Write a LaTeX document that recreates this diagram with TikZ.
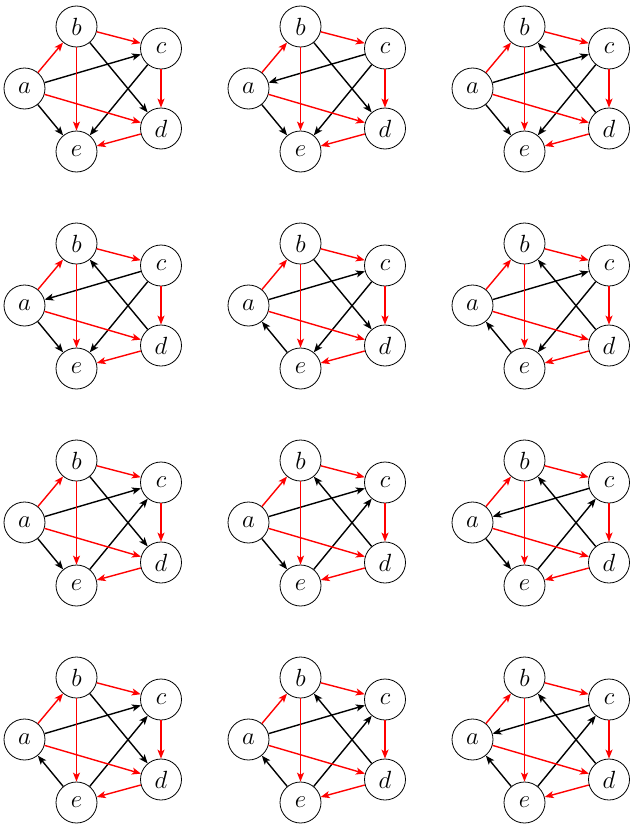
\documentclass[tikz,border=0pt]{standalone}
\usetikzlibrary{arrows.meta}
\tikzset{
  vtx/.style={circle,draw,line width=0.8pt,minimum size=41pt,inner sep=0pt,font=\fontsize{25}{30}\selectfont},
  redarr/.style={red,line width=1.4pt,-{Stealth[length=9pt,width=7pt,inset=2.2pt]}},
  blkarr/.style={black,line width=1.4pt,-{Stealth[length=9pt,width=7pt,inset=2.2pt]}}
}
\newcommand\tpanel[4]{%
  \begin{scope}[shift={(#2,#3)}]
    \node[vtx] (#1a) at (0,0) {$a$};
    \node[vtx] (#1b) at (52,-62) {$b$};
    \node[vtx] (#1c) at (136.5,-40) {$c$};
    \node[vtx] (#1d) at (136.5,40) {$d$};
    \node[vtx] (#1e) at (52,63) {$e$};
    \foreach \s/\t in {#4} \draw[blkarr] (#1\s) -- (#1\t);
    \foreach \s/\t in {a/b,b/c,c/d,d/e,a/d,b/e} \draw[redarr] (#1\s) -- (#1\t);
  \end{scope}}
\begin{document}
\begin{tikzpicture}[x=1pt,y=-1pt]
\useasboundingbox (0,0) rectangle (631,827);
\tpanel{pA}{24.5}{88.5}{a/c,a/e,b/d,c/e}
\tpanel{pB}{248.5}{88.5}{c/a,a/e,b/d,c/e}
\tpanel{pC}{472.5}{88.5}{a/c,a/e,d/b,c/e}
\tpanel{pD}{24.5}{305.5}{c/a,a/e,d/b,c/e}
\tpanel{pE}{248.5}{305.5}{a/c,e/a,b/d,c/e}
\tpanel{pF}{472.5}{305.5}{a/c,e/a,d/b,c/e}
\tpanel{pG}{24.5}{522.5}{a/c,a/e,b/d,e/c}
\tpanel{pH}{248.5}{522.5}{a/c,a/e,d/b,e/c}
\tpanel{pI}{472.5}{522.5}{c/a,a/e,d/b,e/c}
\tpanel{pJ}{24.5}{739.5}{a/c,e/a,b/d,e/c}
\tpanel{pK}{248.5}{739.5}{a/c,e/a,d/b,e/c}
\tpanel{pL}{472.5}{739.5}{c/a,e/a,d/b,e/c}
\end{tikzpicture}
\end{document}
